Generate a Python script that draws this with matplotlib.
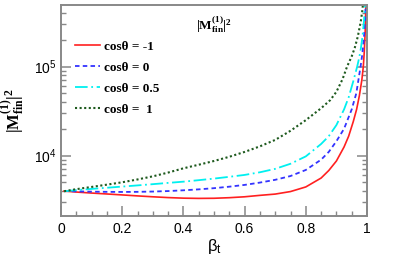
import numpy as np
import matplotlib
matplotlib.use("Agg")
import matplotlib.pyplot as plt
from matplotlib.ticker import MultipleLocator, LogLocator, NullFormatter, FuncFormatter

plt.rcParams['mathtext.fontset'] = 'custom'
plt.rcParams['mathtext.rm'] = 'Liberation Serif:bold'
plt.rcParams['mathtext.bf'] = 'Liberation Serif:bold'
plt.rcParams['mathtext.it'] = 'Liberation Serif:italic:bold'
plt.rcParams['mathtext.sf'] = 'Liberation Sans'
plt.rcParams['font.family'] = ['Liberation Sans', 'DejaVu Sans']

# ---------------- data ----------------
beta_red = [0.01, 0.05, 0.1, 0.15, 0.2, 0.25, 0.3, 0.35, 0.4, 0.45, 0.5, 0.55, 0.6, 0.65, 0.7,
            0.75, 0.8, 0.85, 0.875, 0.9, 0.925, 0.94, 0.955, 0.966, 0.975, 0.983, 0.988,
            0.991, 0.994, 0.996, 0.998]
val_red = [4000, 3900, 3800, 3710, 3620, 3530, 3450, 3380, 3330, 3310, 3320, 3370, 3450, 3580, 3700,
           3950, 4450, 5600, 6800, 8700, 12500, 16500, 24000, 33000, 47000, 70000, 100000,
           145000, 240000, 450000, 1000000]

beta_blue = [0.01, 0.05, 0.1, 0.15, 0.2, 0.25, 0.3, 0.35, 0.4, 0.45, 0.5, 0.55, 0.6, 0.65, 0.7,
             0.75, 0.8, 0.85, 0.875, 0.9, 0.925, 0.95, 0.965, 0.979, 0.985, 0.99, 0.993,
             0.995, 0.997]
val_blue = [4000, 3970, 3940, 3920, 3910, 3920, 3950, 4000, 4080, 4180, 4310, 4480, 4690, 4980, 5350,
            5900, 6900, 9000, 11000, 14500, 20000, 33000, 50000, 100000, 140000, 210000, 300000,
            420000, 700000]

beta_cyan = [0.01, 0.05, 0.1, 0.15, 0.2, 0.25, 0.3, 0.35, 0.4, 0.45, 0.5, 0.55, 0.6, 0.65, 0.7,
             0.75, 0.8, 0.85, 0.875, 0.9, 0.925, 0.94, 0.955, 0.968, 0.975, 0.98, 0.985,
             0.99, 0.993, 0.995]
val_cyan = [3980, 4100, 4230, 4360, 4490, 4630, 4780, 4940, 5100, 5300, 5520, 5780, 6070, 6500, 7100,
            8100, 9800, 13500, 16500, 22000, 33000, 45000, 68000, 100000, 128000, 160000, 213000,
            320000, 457000, 640000]

beta_green = [0.01, 0.05, 0.1, 0.15, 0.2, 0.25, 0.3, 0.35, 0.4, 0.45, 0.5, 0.55, 0.6, 0.65, 0.7,
              0.75, 0.8, 0.85, 0.88, 0.9, 0.92, 0.935, 0.95, 0.96, 0.97, 0.98, 0.985, 0.99]
val_green = [3980, 4200, 4450, 4720, 5020, 5400, 5850, 6450, 7200, 7900, 8700, 9700, 11000, 12700, 15000,
             19000, 25000, 34000, 42000, 52000, 72000, 100000, 130000, 162000, 217000, 325000, 433000,
             650000]

labels = [u'cos\u03b8 = -1', u'cos\u03b8 = 0', u'cos\u03b8 = 0.5', u'cos\u03b8 =  1']
x_ticks = [0, 0.2, 0.4, 0.6, 0.8, 1.0]
x_tick_labels = ['0', '0.2', '0.4', '0.6', '0.8', '1']

# ---------------- figure ----------------
fig = plt.figure(figsize=(4.07, 2.56), dpi=100)
ax = fig.add_axes([61/407, 1-216/256, (367-61)/407, (216-5)/256])

ax.plot(beta_red, val_red, color='#ff2020', lw=1.2, ls='-', label=labels[0])
ax.plot(beta_blue, val_blue, color='#3333ff', lw=1.3, ls=(0, (2.5, 1.8)), label=labels[1])
ax.plot(beta_cyan, val_cyan, color='#00f0f0', lw=1.3, ls=(0, (7, 2, 1, 2)), label=labels[2])
ax.plot(beta_green, val_green, color='#1e5a1e', lw=1.5, ls=(0, (1, 1.2)), label=labels[3])

ax.set_xlim(0, 1)
ax.set_yscale('log')
ax.set_ylim(2100, 4.9e5)

ax.xaxis.set_minor_locator(MultipleLocator(0.05))
ax.set_xticks(x_ticks)
ax.set_xticklabels(x_tick_labels)
ax.yaxis.set_major_locator(LogLocator(base=10, numticks=10))
ax.yaxis.set_minor_locator(LogLocator(base=10, subs=np.arange(2, 10), numticks=20))
ax.yaxis.set_major_formatter(FuncFormatter(lambda v, p: r'$\mathsf{10^{%d}}$' % int(round(np.log10(v)))))
ax.yaxis.set_minor_formatter(NullFormatter())

spine_col = '#888888'
for s in ax.spines.values():
    s.set_color(spine_col)
    s.set_linewidth(1.4)
ax.tick_params(which='both', direction='in', colors=spine_col, labelcolor='black',
               right=True, top=False, labelsize=10)
ax.tick_params(which='major', length=7, width=1.1)
ax.tick_params(which='minor', length=3.5, width=1.0)
ax.tick_params(axis='x', pad=4)

ax.set_xlabel(u'\u03b2$_\\mathsf{t}$', fontsize=12)
ax.xaxis.set_label_coords(0.5, -0.1)
ax.set_ylabel(r'$|\mathrm{M}^{(1)}_{\mathrm{fin}}|^{2}$', fontsize=12)
ax.yaxis.set_label_coords(-0.115, 0.5)

ax.text(0.5, 0.905, r'$|\mathrm{M}^{(1)}_{\mathrm{fin}}|^{2}$', transform=ax.transAxes,
        ha='center', va='center', fontsize=9.5)

leg = ax.legend(loc='upper left', bbox_to_anchor=(0.045, 0.83), frameon=False,
                prop={'family': 'Liberation Serif', 'weight': 'bold', 'size': 9.5},
                handlelength=1.9, handletextpad=0.35, labelspacing=0.65,
                borderpad=0, borderaxespad=0)

fig.savefig('out.png', dpi=100)
